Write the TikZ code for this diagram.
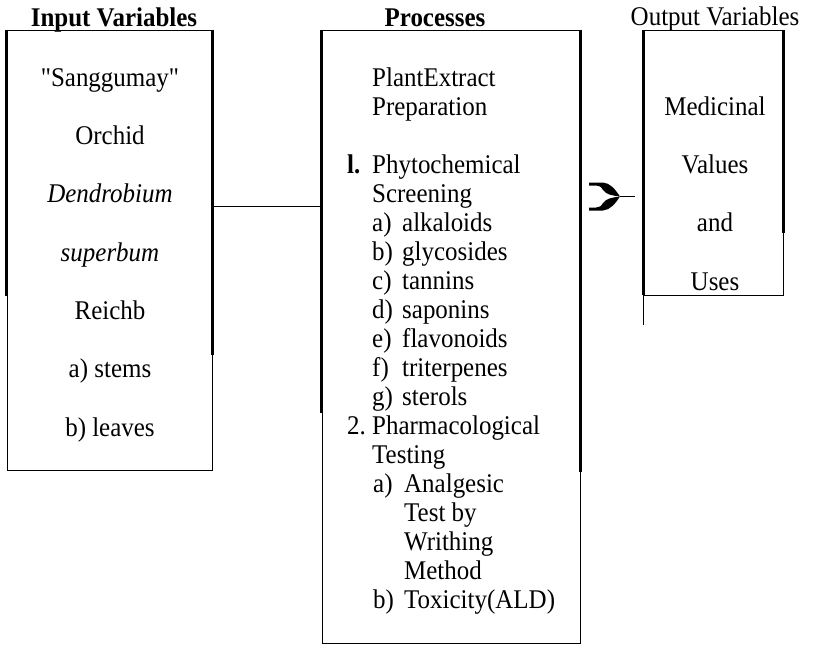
\documentclass[tikz,border=0pt]{standalone}
\usepackage{fontspec}
\setmainfont{Liberation Serif}[Ligatures=TeXOff, FakeStretch=0.925]
\usetikzlibrary{calc, positioning}

\tikzset{
	txt/.style={inner sep=0pt, font=\fontsize{27}{31}\selectfont},
	lefttxt/.style={txt, anchor=base west},
	midtxt/.style={txt, anchor=base},
	head/.style={midtxt, font=\fontsize{27}{31}\selectfont\bfseries},
	varbox/.style={draw, line width=0.9pt, inner sep=0pt},
	thickedge/.style={line width=2.4pt},
}

\begin{document}
\begin{tikzpicture}[x=1pt, y=-1pt]
		\useasboundingbox (0,0) rectangle (813,645);

		% boxes %
		\node[varbox, minimum width=205pt, minimum height=440pt] (inbox) at (109.5,250) {};
		\node[varbox, minimum width=258pt, minimum height=613pt] (procbox) at (451,336.5) {};
		\node[varbox, minimum width=139pt, minimum height=265pt] (outbox) at (713.5,162.5) {};

		% heavier parts of the box edges %
		\draw[thickedge] (inbox.north west) -- ++(0,266);
		\draw[thickedge] (inbox.north east) -- ++(0,325);
		\draw[thickedge] (procbox.north west) -- ++(0,383);
		\draw[thickedge] (procbox.north east) -- ++(0,442);
		\draw[thickedge] (outbox.north west) -- (outbox.south west);
		\draw[thickedge] (outbox.north east) -- ++(0,203);
		\draw[line width=0.9pt] (outbox.south west) -- ++(0,30);

		% headings %
		\node[head] (inhead) at (114,26) {Input Variables};
		\node[head] (prochead) at (435,26) {Processes};
		\node[midtxt] (outhead) at (715,25) {Output Variables};

		% input variables %
		\node[midtxt] (in1) at (110,86) {"Sanggumay"};
		\node[midtxt] (in2) at (110,144) {Orchid};
		\node[midtxt] (in3) at (110,202) {\itshape Dendrobium};
		\node[midtxt] (in4) at (110,261) {\itshape superbum};
		\node[midtxt] (in5) at (110,319) {Reichb};
		\node[midtxt] (in6) at (110,377) {a) stems};
		\node[midtxt] (in7) at (110,436) {b) leaves};

		% processes %
		\node[lefttxt] (pr1) at (372,86) {PlantExtract};
		\node[lefttxt] (pr2) at (372,115) {Preparation};
		\node[lefttxt] (num1) at (347,173) {\bfseries l.};
		\node[lefttxt] (pr3) at (372,173) {Phytochemical};
		\node[lefttxt] (pr4) at (372,202) {Screening};
		\foreach \lab/\word [count=\i] in {a/alkaloids, b/glycosides, c/tannins, d/saponins, e/flavonoids, f/triterpenes, g/sterols}{
			\node[lefttxt] (lab\i) at (372,{231+29*(\i-1)}) {\lab)};
			\node[lefttxt] (sc\i) at (402,{231+29*(\i-1)}) {\word};
		}
		\node[lefttxt] (num2) at (347,434) {2.};
		\node[lefttxt] (pr5) at (372,434) {Pharmacological};
		\node[lefttxt] (pr6) at (372,463) {Testing};
		\node[lefttxt] (laba) at (373,492) {a)};
		\node[lefttxt] (ph1) at (404,492) {Analgesic};
		\node[lefttxt] (ph2) at (404,521) {Test by};
		\node[lefttxt] (ph3) at (404,550) {Writhing};
		\node[lefttxt] (ph4) at (404,579) {Method};
		\node[lefttxt] (labb) at (373,608) {b)};
		\node[lefttxt] (ph5) at (404,608) {Toxicity(ALD)};

		% output variables %
		\node[midtxt] (out1) at (715,115) {Medicinal};
		\node[midtxt] (out2) at (715,173) {Values};
		\node[midtxt] (out3) at (715,231) {and};
		\node[midtxt] (out4) at (715,290) {Uses};

		% edges %
		\coordinate (link) at (0,206);
		\draw[line width=0.9pt] (inbox.east |- link) -- (procbox.west |- link);

		\coordinate (arrtip) at (620,196.5);
		\coordinate (arrend) at (635,196.5);
		\draw[line width=1.3pt] (arrtip) -- (arrend);
		\fill (589,182.5) -- (603,182.5) .. controls (610,183) and (615,189) .. (arrtip)
			.. controls (612,195.5) and (606,194.5) .. (603,190) .. controls (601,186.5) and (599,185.5) .. (596,185.5) -- (589,185.5) -- cycle;
		\fill (589,210.5) -- (603,210.5) .. controls (610,210) and (615,204) .. (arrtip)
			.. controls (612,197.5) and (606,198.5) .. (603,203) .. controls (601,206.5) and (599,207.5) .. (596,207.5) -- (589,207.5) -- cycle;
\end{tikzpicture}
\end{document}
